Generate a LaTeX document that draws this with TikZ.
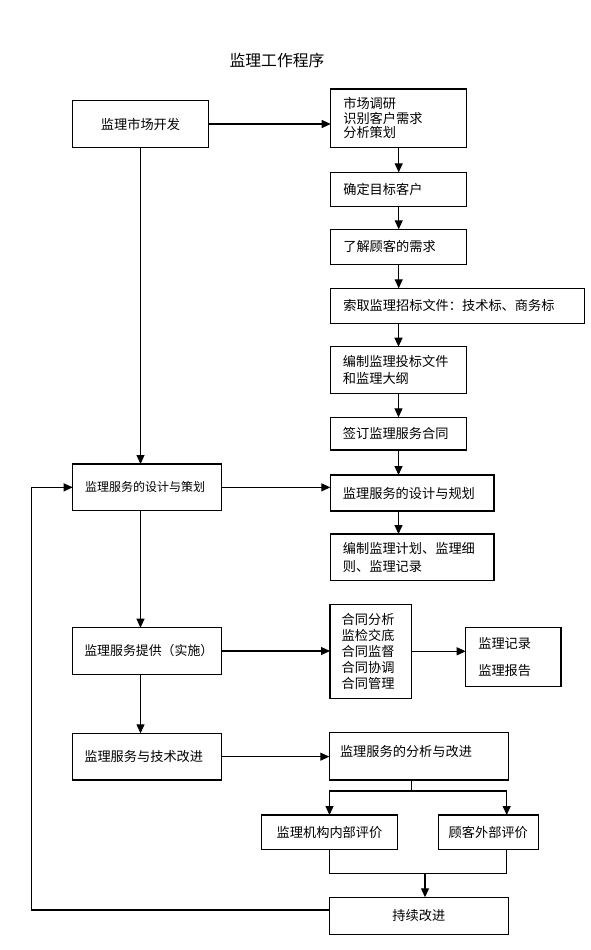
\documentclass[tikz,border=0pt]{standalone}
\usepackage{fontspec}
\setmainfont{Noto Sans CJK SC}
\usetikzlibrary{arrows.meta}
\begin{document}
\begin{tikzpicture}[x=1pt,y=-1pt,
  box/.style={draw, line width=1.2pt, outer sep=0pt, anchor=north west, inner ysep=0pt,
    inner xsep=12.6pt, align=left, font=\fontsize{13.2}{15}\selectfont},
  cbox/.style={box, align=center},
  arr/.style={line width=1.1pt, -{Triangle[length=9pt,width=8pt]}},
  ln/.style={line width=1.1pt}]
\useasboundingbox (0,0) rectangle (591,950);
\fill[white] (0,0) rectangle (591,950);

\node[font=\fontsize{15.8}{18}\selectfont] (title) at (277,60) {监理工作程序};

% left column
\node[cbox, text width=110.4pt, minimum height=46.6pt] (A) at (72.7,100.7) {监理市场开发};
\node[box, inner xsep=12.3pt, text width=124.4pt, minimum height=46.7pt, font=\fontsize{12}{14}\selectfont] (C) at (72.7,464) {监理服务的设计与策划};
\node[box, inner xsep=12pt, text width=125.4pt, minimum height=46.6pt, font=\fontsize{12.9}{15}\selectfont] (D) at (72.3,627.7) {监理服务提供（实施）};
\node[box, inner xsep=12pt, text width=125.4pt, minimum height=46.7pt] (F) at (72.3,733.3) {监理服务与技术改进};

% right column
\node[box, text width=110.8pt, minimum height=58.3pt, font=\fontsize{13.2}{14.7}\selectfont] (B1) at (330.7,89) {市场调研\\识别客户需求\\分析策划};
\node[box, text width=110.8pt, minimum height=34.4pt] (B2) at (330.7,172.3) {确定目标客户};
\node[box, text width=110.8pt, minimum height=35pt] (B3) at (330.7,229.3) {了解顾客的需求};
\node[box, text width=228.4pt, minimum height=35pt] (B4) at (330.7,288.3) {索取监理招标文件：技术标、商务标};
\node[box, text width=111.2pt, minimum height=46.6pt, font=\fontsize{13.2}{17.7}\selectfont] (B5) at (330.3,346.7) {编制监理投标文件\\和监理大纲};
\node[box, text width=111.2pt, minimum height=32.7pt] (B6) at (330.3,417.3) {签订监理服务合同};
\node[box, text width=138.5pt, minimum height=36pt] (B7) at (330.3,475) {监理服务的设计与规划};
\node[box, text width=138.5pt, minimum height=46.7pt, font=\fontsize{13.2}{17.4}\selectfont] (B8) at (330.3,534) {编制监理计划、监理细\\则、监理记录};

\node[box, inner xsep=11.7pt, text width=58.3pt, minimum height=94pt, font=\fontsize{13.2}{16}\selectfont] (E1) at (330,604.3) {合同分析\\监检交底\\合同监督\\合同协调\\合同管理};
\node[box, text width=70.1pt, minimum height=59pt, font=\fontsize{13.2}{26.7}\selectfont] (E2) at (465.7,627.7) {监理记录\\监理报告};

\node[box, inner xsep=10.7pt, text width=157.6pt, minimum height=47.3pt, text depth=10.6pt] (G) at (329.3,732.7) {监理服务的分析与改进};
\node[cbox, inner xsep=12pt, text width=111.6pt, minimum height=34.3pt] (H1) at (261.7,815) {监理机构内部评价};
\node[cbox, inner xsep=9pt, text width=82pt, minimum height=34.3pt] (H2) at (438.3,815) {顾客外部评价};
\node[cbox, inner xsep=12pt, text width=155pt, minimum height=37pt] (I) at (329.3,897.3) {持续改进};

% helper coordinates
\coordinate (split) at (411.5,791);
\coordinate (h2x) at (506.7,815);
\coordinate (merge) at (425,873.3);
\coordinate (fb) at (31.5,910);

% connectors
\draw[arr] (A.east) -- (A.east -| B1.west);
\draw[arr] (B1.south) -- (B1.south |- B2.north);
\draw[arr] (B2.south) -- (B2.south |- B3.north);
\draw[arr] (B3.south) -- (B3.south |- B4.north);
\draw[arr] (B5.north |- B4.south) -- (B5.north);
\draw[arr] (B5.south) -- (B5.south |- B6.north);
\draw[arr] (B6.south) -- (B6.south |- B7.north);
\draw[arr] (B6.south |- B7.south) -- (B6.south |- B8.north);

\draw[arr] (A.south) -- (A.south |- C.north);
\draw[arr] (C.east) -- (C.east -| B7.west);
\draw[arr] (A.south |- C.south) -- (A.south |- D.north);
\draw[arr] (D.east) -- (D.east -| E1.west);
\draw[arr] (E1.east) -- (E1.east -| E2.west);
\draw[arr] (A.south |- D.south) -- (A.south |- F.north);
\draw[arr] (F.east) -- (F.east -| G.west);

\draw[ln] (split |- G.south) -- (split);
\draw[arr] (split) -| (H1.north);
\draw[arr] (split) -| (h2x);
\draw[ln] (H1.south) |- (merge);
\draw[ln] (h2x |- H2.south) |- (merge);
\draw[arr] (merge) -- (merge |- I.north);

\draw[arr] (fb -| I.west) -- (fb) |- (C.west);
\end{tikzpicture}
\end{document}
